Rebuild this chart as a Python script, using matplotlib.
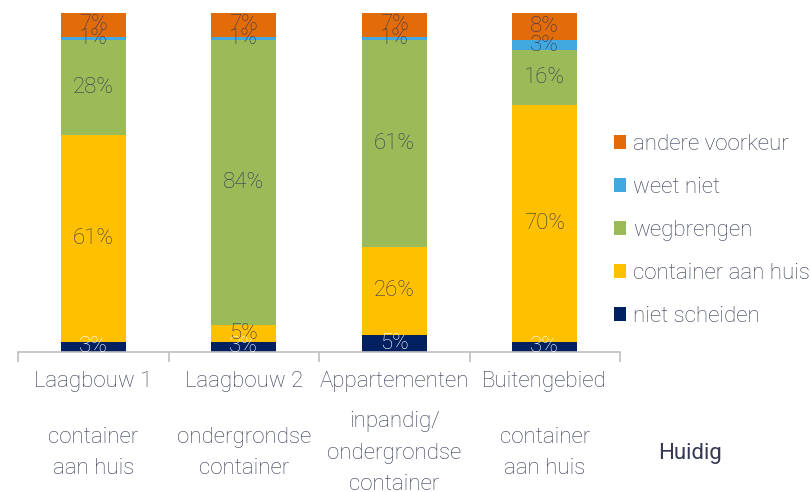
import matplotlib
matplotlib.use("Agg")
import matplotlib.pyplot as plt
from matplotlib.patches import Patch
from matplotlib.transforms import blended_transform_factory
import numpy as np

categories = ["Laagbouw 1", "Laagbouw 2", "Appartementen", "Buitengebied"]
sublabels = ["container\naan huis", "ondergrondse\ncontainer", "inpandig/\nondergrondse\ncontainer", "container\naan huis"]
series_names = ["niet scheiden", "container aan huis", "wegbrengen", "weet niet", "andere voorkeur"]
niet_scheiden = [3, 3, 5, 3]
container_aan_huis = [61, 5, 26, 70]
wegbrengen = [28, 84, 61, 16]
weet_niet = [1, 1, 1, 3]
andere_voorkeur = [7, 7, 7, 8]
series_values = [niet_scheiden, container_aan_huis, wegbrengen, weet_niet, andere_voorkeur]
colors = ["#002060", "#FFC000", "#9BBB59", "#41A9E0", "#E36C0A"]
label_colors = ["white", "#353A52", "#353A52", "#353A52", "#353A52"]
side_label = "Huidig"

plt.rcParams['font.family'] = ['Roboto', 'DejaVu Sans']
txt_color = "#353A52"
FS = 16

W, H = 812, 492
fig = plt.figure(figsize=(W / 100, H / 100), dpi=100)
ax = fig.add_axes([18 / W, (H - 352) / H, (620 - 18) / W, (352 - 13) / H])

x = np.arange(len(categories))
bottom = np.zeros(len(categories))
for name, vals, col, lcol in zip(series_names, series_values, colors, label_colors):
    v = np.array(vals, dtype=float)
    bars = ax.bar(x, v, width=0.433, bottom=bottom, color=col, label=name, zorder=2)
    ax.bar_label(bars, labels=[f"{int(a)}%" for a in v], label_type='center',
                 color=lcol, fontsize=FS, fontweight='light', zorder=3)
    bottom += v

ax.set_xlim(-0.5, len(categories) - 0.5)
ax.set_ylim(0, 100)
for s in ["top", "right", "left"]:
    ax.spines[s].set_visible(False)
ax.spines["bottom"].set_color("#BFBFBF")
ax.spines["bottom"].set_linewidth(1.2)
ax.set_yticks([])
ax.set_xticks(x)
ax.set_xticklabels(categories, fontsize=FS, fontweight='light', color=txt_color)
ax.tick_params(axis='x', which='major', length=0, pad=14)
ax.set_xticks(np.arange(-0.5, len(categories), 1.0), minor=True)
ax.tick_params(axis='x', which='minor', length=7, color="#BFBFBF", width=1.2)

tr = blended_transform_factory(ax.transData, fig.transFigure)
for xi, sl in zip(x, sublabels):
    ax.text(xi, (H - 453) / H, sl, transform=tr, ha='center', va='center',
            fontsize=FS, fontweight='light', color=txt_color, linespacing=1.66)
fig.text(690 / W, (H - 453) / H, side_label, ha='center', va='center',
         fontsize=FS, color=txt_color)

handles = [Patch(facecolor=c, label=n) for n, c in zip(series_names, colors)][::-1]
fig.legend(handles=handles, loc='center left', bbox_to_anchor=(614 / W, 1 - 230.5 / H),
           frameon=False, prop={'weight': 'light', 'size': FS},
           labelcolor=txt_color, handlelength=0.55, handleheight=0.55,
           handletextpad=0.3, labelspacing=0.99, borderpad=0, borderaxespad=0)

fig.savefig("out.png", dpi=100)
